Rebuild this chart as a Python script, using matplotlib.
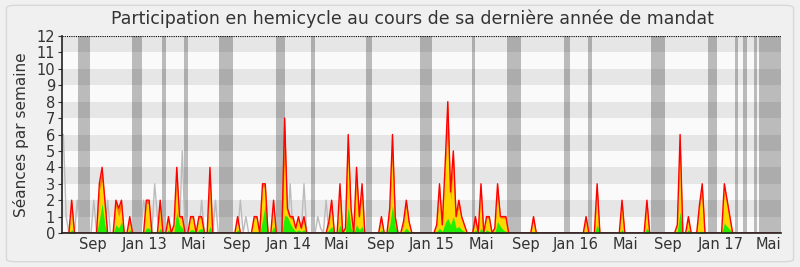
import numpy as np
import matplotlib.pyplot as plt
from matplotlib.patches import FancyBboxPatch

# weekly values, index = week number since start of the period (260 weeks)
n_weeks = 260

# séances (red line / orange fill)
presence = {3: 2, 13: 3, 14: 4, 15: 2, 19: 2, 20: 1.5, 21: 2, 24: 1, 30: 2, 31: 2,
            35: 2, 38: 1, 40: 0.5, 41: 4, 42: 1, 43: 1, 46: 1, 47: 1, 49: 1, 50: 1,
            53: 4, 63: 1, 69: 1, 70: 1, 72: 3, 73: 3, 76: 2, 80: 7, 81: 1.5, 82: 1,
            83: 1, 84: 0.3, 85: 1, 86: 0.3, 87: 1, 96: 0.7, 97: 2, 100: 3, 102: 0.3,
            103: 6, 104: 1.5, 106: 4, 107: 1, 108: 3, 115: 1, 118: 1.5, 119: 6, 120: 1,
            123: 0.7, 124: 2, 125: 0.7, 135: 0.5, 136: 3, 137: 0.5, 138: 4, 139: 8,
            140: 2.5, 141: 5, 142: 1, 143: 2, 144: 1, 145: 0.5, 149: 1, 151: 3, 153: 1,
            154: 1, 156: 0.3, 157: 3, 158: 1, 159: 1, 160: 1, 170: 1, 189: 1, 193: 3,
            202: 2, 211: 2, 222: 0.5, 223: 6, 226: 1, 230: 1.7, 231: 3, 239: 3, 240: 2,
            241: 1}

# participations (yellow fill)
participation = {3: 1.6, 13: 2.6, 14: 3.2, 15: 1.6, 19: 1.6, 20: 1.0, 21: 1.6, 24: 0.7,
                 30: 1.8, 31: 1.8, 35: 1.5, 38: 0.7, 40: 0.4, 41: 3.0, 42: 0.9, 43: 0.9,
                 46: 0.9, 47: 0.9, 49: 0.9, 50: 0.9, 53: 3.0, 63: 0.8, 69: 0.9, 70: 0.9,
                 72: 2.8, 73: 2.8, 76: 1.7, 80: 4.5, 81: 1.2, 82: 0.9, 83: 0.8, 84: 0.2,
                 85: 0.8, 86: 0.2, 87: 0.8, 96: 0.5, 97: 1.5, 100: 2.5, 102: 0.2, 103: 5.0,
                 104: 1.2, 106: 3.0, 107: 0.8, 108: 2.3, 115: 0.8, 118: 1.2, 119: 4.8,
                 120: 0.8, 123: 0.5, 124: 1.6, 125: 0.5, 135: 0.4, 136: 2.5, 137: 0.4,
                 138: 3.8, 139: 6.0, 140: 2.0, 141: 4.0, 142: 0.9, 143: 1.6, 144: 0.9,
                 145: 0.4, 149: 0.7, 151: 2.4, 153: 0.9, 154: 0.9, 156: 0.2, 157: 2.4,
                 158: 0.9, 159: 0.9, 160: 0.9, 170: 0.7, 189: 0.7, 193: 2.4, 202: 1.5,
                 211: 1.5, 222: 0.4, 223: 5.0, 226: 0.7, 230: 1.5, 231: 2.5, 239: 2.6,
                 240: 1.7, 241: 0.8}

# interventions (green fill)
interventions = {3: 0.2, 13: 0.8, 14: 1.8, 15: 0.5, 19: 0.5, 20: 0.3, 21: 0.7, 24: 0.2,
                 30: 0.3, 31: 0.3, 35: 0.3, 38: 0.2, 40: 0.1, 41: 1.3, 42: 0.5, 43: 0.3,
                 46: 0.2, 47: 0.2, 49: 0.2, 50: 0.3, 53: 0.4, 63: 0.2, 69: 0.1, 70: 0.1,
                 72: 0.8, 73: 1.8, 76: 0.4, 80: 1.1, 81: 1.0, 82: 0.6, 83: 0.3, 84: 0.1,
                 85: 0.2, 86: 0.1, 87: 0.2, 96: 0.2, 97: 0.4, 100: 0.5, 102: 0.1, 103: 1.6,
                 104: 0.3, 106: 0.5, 107: 0.2, 108: 0.4, 115: 0.2, 118: 0.5, 119: 1.7,
                 120: 0.4, 123: 0.1, 124: 0.3, 125: 0.1, 135: 0.1, 136: 0.3, 137: 0.1,
                 138: 0.6, 139: 0.9, 140: 0.5, 141: 1.0, 142: 0.3, 143: 0.4, 144: 0.2,
                 145: 0.1, 149: 0.2, 151: 0.3, 153: 0.2, 154: 0.1, 157: 0.7, 158: 0.4,
                 159: 0.2, 160: 0.1, 170: 0.1, 189: 0.1, 193: 0.5, 202: 0.2, 211: 0.3,
                 222: 0.1, 223: 1.3, 226: 0.2, 230: 0.1, 231: 0.1, 239: 0.6, 240: 0.4,
                 241: 0.2}

# grey line
mediane = {0: 6, 1: 1, 5: 2, 11: 2, 16: 2, 29: 2, 30: 1, 33: 3, 34: 1, 42: 0.5, 43: 5,
           50: 2, 55: 2, 64: 2, 66: 1, 82: 3, 87: 3, 92: 1, 93: 0.3, 95: 2}

# vacances (start week, end week)
vacances = [(5.3, 9.6), (24.8, 28.4), (35.7, 37.1), (43.6, 45.1), (56.3, 61.3),
            (76.9, 80.1), (89.6, 91.0), (109.4, 111.6), (128.9, 133.3), (147.8, 148.9),
            (160.4, 165.5), (181.0, 183.2), (189.7, 191.2), (212.5, 217.6),
            (233.1, 236.4), (242.9, 244.0), (245.8, 247.2), (249.8, 250.9),
            (251.6, 259.5)]

tick_weeks = [10.8, 29.4, 46.9, 62.6, 81.3, 98.8, 114.7, 133.2, 151.0, 167.3,
              185.4, 203.1, 218.5, 237.5, 254.9]
tick_labels = ['Sep', 'Jan 13', 'Mai', 'Sep', 'Jan 14', 'Mai', 'Sep', 'Jan 15',
               'Mai', 'Sep', 'Jan 16', 'Mai', 'Sep', 'Jan 17', 'Mai']


def to_array(d):
    a = np.zeros(n_weeks)
    for k, v in d.items():
        a[k] = v
    return a


weeks = np.arange(n_weeks)
p = to_array(presence)
y = to_array(participation)
g = to_array(interventions)
m = to_array(mediane)

fig = plt.figure(figsize=(8, 2.67), dpi=100, facecolor='#f0f0f0')
frame = FancyBboxPatch((0.008, 0.02), 0.984, 0.96, boxstyle='round,pad=0,rounding_size=0.01',
                       transform=fig.transFigure, facecolor='none',
                       edgecolor='#d8d8d8', linewidth=1, zorder=-1)
fig.add_artist(frame)
ax = fig.add_axes([0.0775, 0.1273, 0.8988, 0.7379])
ax.set_facecolor('#fafafa')

for i in range(12):
    if i % 2 == 1:
        ax.axhspan(i, i + 1, color='#e6e6e6', lw=0, zorder=0)
for a, b in vacances:
    ax.axvspan(a, b, color='black', alpha=0.25, lw=0, zorder=1)

ax.plot(weeks, m, color='#bbbbbb', lw=1, zorder=2)
ax.fill_between(weeks, 0, p, color='#ff8000', lw=0, zorder=3)
ax.fill_between(weeks, 0, y, color='#ffd700', lw=0, zorder=4)
ax.fill_between(weeks, 0, g, color='#22ee00', lw=0, zorder=5)
ax.plot(weeks, p, color='#ff0000', lw=1, zorder=6)
ax.axhline(12, color='black', lw=0.8, ls=(0, (1, 1)), zorder=7)

ax.set_xlim(-0.5, 259.5)
ax.set_ylim(0, 12)
ax.set_yticks(range(13))
ax.set_xticks(tick_weeks)
ax.set_xticklabels(tick_labels)
ax.tick_params(axis='x', length=0, pad=3, labelsize=10.5, colors='#333333')
ax.tick_params(axis='y', length=3, pad=2, labelsize=10.5, colors='#333333')
for s in ['top', 'right']:
    ax.spines[s].set_visible(False)
for s in ['left', 'bottom']:
    ax.spines[s].set_color('#222222')
    ax.spines[s].set_linewidth(1.2)
    ax.spines[s].set_zorder(10)
ax.set_ylabel('Séances par semaine', fontsize=11, color='#333333', labelpad=5)
fig.suptitle('Participation en hemicycle au cours de sa dernière année de mandat',
             fontsize=12.5, color='#333333', x=0.515, y=0.965)

fig.savefig('out.png', dpi=100, facecolor=fig.get_facecolor())
